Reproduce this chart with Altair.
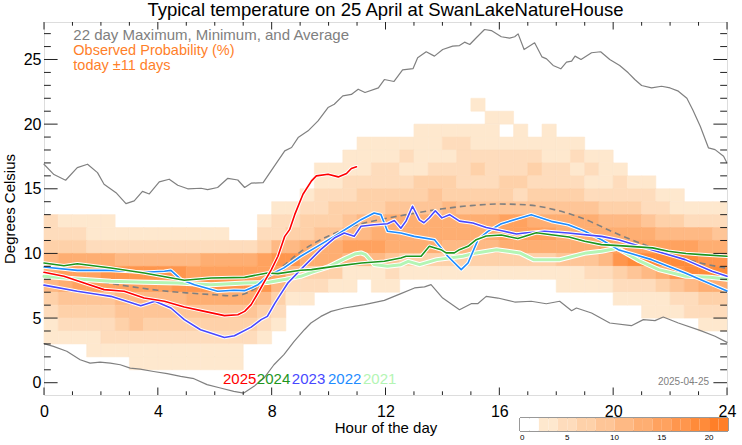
import altair as alt
import pandas as pd

W, H = 683, 373
X_DOMAIN = [0, 24]
Y_DOMAIN = [-0.95, 27.9]
FONT = "Liberation Sans"
GRAY = "#808080"
ORANGE = "#FF7F2A"

title_text = "Typical temperature on 25 April at SwanLakeNatureHouse"

# ---------------- observed probability heat map ----------------
# key: low edge of 1 degC bin; value: (first half-hour column, colour band per column)
heat_rows = {
    21: (30, "1"),
    20: (31, "11"),
    19: (26, "1111110101"),
    18: (22, "1111112211111111"),
    17: (21, "1111211122222211211"),
    16: (19, "1111221122232223221211"),
    15: (19, "112222233322233222211211"),
    14: (18, "122233333433333233332222211"),
    13: (16, "11223333444454444444444333221111"),
    12: (0, "21111" + "0" * 10 + "122333455666666667766666555433222"),
    11: (0, "2221111111111" + "00" + "223344556" + "66666666" + "7777" + "6666666" + "55554"),
    10: (0, "333222222222222" + "355666777" + "6666555566666667" + "77777766"),
    9: (0, "566665555556666" + "788666555" + "4333333333334445" + "89999988"),
    8: (0, "677788888877777" + "775333111" + "2111111111111122" + "34568999"),
    7: (0, "567777777888888" + "852221101" + "1" + "0" * 11 + "111122234566"),
    6: (0, "3444455555666665311" + "0" * 21 + "11112233"),
    5: (0, "23333444444444432" + "0" * 25 + "111222"),
    4: (0, "12222343333333321" + "0" * 29 + "11"),
    3: (0, "1111" + "2" * 11 + "1"),
    2: (3, "1" * 11),
    1: (6, "1" * 8),
}
COL_HOURS = 0.5
band_colors = ["#FFFFFF", "#FEE8CE", "#FEDCBC", "#FED1A9", "#FEC597", "#FEB984",
               "#FEAE72", "#FFA25F", "#FF964D", "#FF8B3A", "#FF7F28"]

# ---------------- 22 day max / min / average ----------------
max_h = [0, 0.35, 0.76, 1.17, 1.53, 1.88, 2.11, 2.53, 2.88, 3.17, 3.46, 3.7, 4.05, 4.4, 4.7, 5.05,
         5.52, 5.75, 6.1, 6.46, 6.81, 7.05, 7.28, 7.7, 8.1, 8.46, 8.7, 8.93, 9.28, 9.63, 9.98, 10.2,
         10.5, 10.8, 11.04, 11.28, 11.75, 11.96, 12.3, 12.6, 12.97, 13.13, 13.43, 13.72, 14.01,
         14.36, 14.6, 14.78, 14.96, 15.19, 15.48, 15.72, 16.07, 16.36, 16.54, 16.66, 16.87, 17.24,
         17.5, 17.66, 17.89, 18.16, 18.36, 18.54, 18.66, 18.87, 19.24, 19.56, 19.88, 20.23, 20.53,
         20.76, 21.0, 21.35, 21.7, 22.0, 22.29, 22.59, 22.8, 23.06, 23.35, 23.58, 23.88, 24.0]
max_t = [16.9, 16.1, 15.66, 16.64, 16.9, 16.25, 15.35, 14.7, 13.85, 14.06, 14.8, 14.6, 15.53, 15.74,
         15.27, 15.0, 15.04, 14.94, 15.1, 15.81, 15.68, 15.1, 15.43, 15.48, 16.77, 17.93, 18.19,
         18.96, 19.48, 20.25, 21.28, 21.54, 22.19, 22.3, 22.7, 22.45, 22.8, 23.45, 23.3, 24.2, 24.3,
         25.13, 25.6, 25.26, 25.77, 26.03, 26.08, 26.34, 26.16, 26.68, 27.32, 27.24, 26.76, 26.65,
         26.76, 26.98, 25.77, 26.29, 25.2, 25.05, 24.54, 24.28, 24.79, 24.87, 25.26, 25.0, 25.52,
         25.6, 25.0, 24.54, 23.97, 23.45, 22.99, 22.8, 22.93, 22.8, 22.55, 22.0, 21.1, 19.84, 18.16,
         18.03, 17.52, 17.0]
min_h = [0, 0.33, 0.8, 1.27, 1.62, 1.97, 2.33, 2.68, 3.03, 3.38, 3.85, 4.33, 4.8, 5.27, 5.73, 6.2,
         6.67, 7.02, 7.38, 7.73, 8.08, 8.43, 8.79, 9.15, 9.38, 9.73, 10.09, 10.55, 10.9, 11.26,
         11.96, 12.54, 13.02, 13.37, 13.6, 14.01, 14.6, 15.01, 15.24, 15.54, 15.95, 16.54, 17.12,
         17.65, 18.12, 18.54, 18.71, 19.24, 19.88, 20.64, 21.06, 21.47, 21.76, 22.29, 23.05, 23.58, 24.0]
min_t = [3.02, 2.81, 2.43, 1.78, 1.52, 1.6, 1.52, 1.39, 1.13, 1.05, 0.87, 0.7, 0.49, 0.31, -0.15,
         -0.41, -0.67, -0.8, -0.28, 0.36, 1.39, 2.17, 3.2, 4.1, 4.62, 5.13, 5.52, 5.78, 5.91, 6.04,
         6.37, 6.89, 7.33, 7.41, 7.59, 6.55, 5.65, 6.11, 6.11, 6.68, 6.55, 6.24, 6.3, 6.11, 6.3,
         5.57, 5.78, 5.39, 4.62, 4.41, 4.88, 4.8, 5.08, 4.62, 4.05, 3.59, 3.12]
avg_h = [0, 1, 2, 3, 4, 5, 6, 6.6, 7, 7.5, 8, 8.5, 9, 9.5, 10, 11, 12, 13, 14, 15, 16, 17, 18, 19,
         20, 21, 22, 23, 24]
avg_t = [8.6, 8.15, 7.8, 7.45, 7.15, 6.95, 6.8, 6.72, 6.85, 7.4, 8.3, 9.2, 10.1, 10.8, 11.35, 12.2,
         12.7, 13.1, 13.45, 13.7, 13.82, 13.75, 13.35, 12.65, 11.65, 10.75, 9.95, 9.3, 8.85]

# ---------------- individual years ----------------
y2025_h = [0, 0.7, 1.41, 2.11, 2.82, 3.52, 4.23, 4.93, 5.64, 6.34, 6.81, 7.05, 7.28, 7.52, 7.75,
           7.99, 8.22, 8.46, 8.63, 8.81, 9.1, 9.4, 9.57, 9.98, 10.34, 10.63, 10.8, 10.98]
y2025_t = [8.54, 8.23, 7.71, 7.2, 7.07, 6.55, 6.3, 5.86, 5.52, 5.19, 5.26, 5.52, 6.04, 6.94, 7.84,
           8.75, 9.78, 11.32, 11.84, 13.0, 14.58, 15.61, 16.0, 16.13, 15.92, 16.18, 16.57, 16.7]
y2024_h = [0, 0.7, 1.17, 2.35, 3.52, 4.93, 5.87, 7.05, 7.85, 8.22, 9.02, 9.4, 10.2, 11.16, 11.96,
           12.54, 12.72, 13.25, 13.54, 13.95, 14.13, 14.42, 14.6, 14.9, 15.19, 15.54, 16.07, 16.65,
           17.3, 17.83, 18.45, 19.0, 19.59, 20.2, 21.38, 21.94, 22.56, 23.11, 24.0]
y2024_t = [9.26, 9.05, 9.2, 8.87, 8.49, 7.92, 8.1, 8.15, 8.49, 8.44, 8.7, 8.75, 9.0, 9.26, 9.39,
           9.65, 9.78, 9.78, 10.55, 10.29, 10.04, 10.04, 10.29, 10.55, 11.06, 11.35, 11.42, 11.15,
           11.6, 11.45, 11.27, 10.94, 10.68, 10.6, 10.43, 10.17, 9.99, 9.91, 9.78]
y2023_h = [0, 1.17, 1.97, 2.35, 3.4, 3.9, 4.46, 4.93, 5.5, 6.34, 6.69, 7.28, 7.63, 7.85, 8.1, 8.3,
           8.57, 9.02, 9.72, 10.2, 10.55, 10.9, 11.14, 11.6, 12.07, 12.31, 12.54, 12.72, 12.95,
           13.19, 13.35, 13.54, 13.75, 13.98, 14.25, 14.6, 15.07, 15.54, 16.13, 16.6, 16.89, 17.59,
           18.42, 19.59, 20.18, 21.35, 22.53, 23.47, 24.0]
y2023_t = [7.55, 7.07, 6.81, 6.68, 5.96, 6.3, 5.78, 4.88, 4.1, 3.5, 3.63, 4.3, 4.88, 5.13, 6.1, 6.8,
           7.71, 8.75, 10.29, 11.19, 11.58, 11.32, 12.1, 12.22, 12.3, 12.55, 11.95, 12.5, 13.65,
           12.6, 12.37, 12.76, 13.3, 12.75, 13.0, 12.5, 12.35, 12.0, 11.73, 11.5, 11.58, 11.71,
           11.58, 11.32, 11.06, 10.29, 9.52, 8.62, 8.23]
y2022_h = [0, 1.17, 2.35, 3.52, 4.23, 4.46, 4.82, 5.29, 6.1, 6.67, 7.05, 7.3, 7.52, 7.85, 8.43,
           9.02, 9.61, 10.2, 10.67, 11.14, 11.6, 11.84, 12.07, 12.54, 13.01, 13.72, 14.19, 14.66,
           14.9, 15.25, 15.6, 16.07, 17.12, 17.83, 18.42, 19.0, 19.59, 20.18, 21.35, 22.53, 24.0]
y2022_t = [8.95, 8.69, 8.69, 8.54, 8.62, 8.69, 7.97, 7.58, 7.07, 7.15, 7.12, 7.35, 7.58, 8.23,
           8.88, 9.78, 10.55, 11.32, 11.97, 12.61, 13.13, 13.0, 11.71, 11.58, 11.32, 11.06, 9.78,
           8.75, 9.26, 11.06, 11.71, 12.3, 13.0, 12.48, 12.22, 11.71, 11.06, 10.29, 9.52, 8.49, 7.1]
y2021_h = [0, 1.17, 2.35, 3.52, 4.7, 5.87, 7.05, 7.85, 8.5, 9.02, 9.4, 9.98, 10.57, 10.92, 11.14,
           11.3, 11.6, 12.07, 12.54, 12.8, 13.2, 13.8, 14.72, 15.19, 15.9, 16.72, 17.2, 18.13,
           19.06, 19.59, 20.15, 20.9, 21.6, 22.55, 23.4, 24.0]
y2021_t = [8.23, 8.02, 7.84, 7.77, 7.71, 7.58, 7.71, 7.75, 8.0, 8.23, 8.54, 8.95, 9.6, 9.95,
           10.04, 9.9, 9.15, 9.0, 9.13, 9.39, 9.13, 9.52, 9.78, 10.04, 10.29, 10.04, 9.52, 9.52,
           10.04, 10.17, 10.4, 9.45, 8.75, 8.23, 8.15, 8.0]

year_names = ["2025", "2024", "2023", "2022", "2021"]
year_colors = ["#FF0000", "#1E961E", "#4848FF", "#1E8CFF", "#B4F5B4"]
year_widths = [1.6, 1.6, 1.6, 1.6, 3.0]
year_label_x = [6.29, 7.48, 8.71, 9.98, 11.21]
year_label_y = -0.12

note_lines = ["22 day Maximum, Minimum, and Average", "Observed Probability (%)", "today \u00b111 days"]
note_colors = [GRAY, ORANGE, ORANGE]
note_sizes = [15, 14.5, 14.5]
note_y = [26.49, 25.31, 24.19]
note_x = 1.03

date_text = "2025-04-25"

x_major = list(range(0, 25, 4))
x_minor = [h for h in range(0, 25) if h % 4]
y_major = list(range(0, 26, 5))
y_minor = [t for t in range(0, 28) if t % 5]

# ---------------- build ----------------
xs = alt.Scale(domain=X_DOMAIN, nice=False, zero=False)
ys = alt.Scale(domain=Y_DOMAIN, nice=False, zero=False)

x_axis = alt.Axis(values=x_major, title="Hour of the day", labelFontSize=16, labelFont=FONT,
                  labelColor="black", ticks=False, domain=False, grid=False, labelPadding=8,
                  labelFlush=False, titleFontSize=15, titleFont=FONT, titleFontWeight="normal",
                  titleColor="black", titleY=25.5, titleBaseline="top")
y_axis = alt.Axis(values=y_major, title="Degrees Celsius", labelFontSize=16, labelFont=FONT,
                  labelColor="black", ticks=False, domain=False, grid=False, labelPadding=3,
                  labelFlush=False, titleFontSize=15, titleFont=FONT, titleFontWeight="normal",
                  titleColor="black", titleX=-27)


def X(field):
    return alt.X(field, scale=xs, axis=x_axis)


def Y(field):
    return alt.Y(field, scale=ys, axis=y_axis)


cells = []
for t_low, (start, levels) in heat_rows.items():
    for i, ch in enumerate(levels):
        k = int(ch)
        if k == 0:
            continue
        c = start + i
        cells.append({"h0": c * COL_HOURS, "h1": (c + 1) * COL_HOURS,
                      "t0": t_low, "t1": t_low + 1, "p": 2 * k + 1})
heat_df = pd.DataFrame(cells)

cscale = alt.Scale(type="quantize", domain=[0, 22],
                   range=[c for c in band_colors for _ in (0, 1)])

legend = alt.Legend(type="gradient", orient="none", legendX=476, legendY=396,
                    direction="horizontal", gradientLength=208, gradientThickness=13,
                    title=None, labelFontSize=8, labelFont=FONT, labelColor="black",
                    labelOffset=3, labelOverlap=False, padding=0,
                    labelExpr="datum.value <= 0 ? '0' : (datum.value % 5 == 0 ? format(datum.value, 'd') : '')")

heat = alt.Chart(heat_df).mark_rect(strokeWidth=0.6).encode(
    x=X("h0:Q"),
    x2="h1:Q",
    y=Y("t0:Q"),
    y2="t1:Q",
    color=alt.Color("p:Q", scale=cscale, legend=legend),
    stroke=alt.Stroke("p:Q", scale=cscale, legend=None),
)


def line_layer(hours, temps, color, width, dash=None, interp="linear"):
    df = pd.DataFrame({"h": hours, "t": temps})
    kw = dict(color=color, strokeWidth=width, interpolate=interp, strokeCap="round",
              strokeJoin="round")
    if dash:
        kw["strokeDash"] = dash
        kw["strokeCap"] = "butt"
    return alt.Chart(df).mark_line(**kw).encode(x=X("h:Q"), y=Y("t:Q"))


layers = [heat,
          line_layer(max_h, max_t, GRAY, 1.2),
          line_layer(min_h, min_t, GRAY, 1.2),
          line_layer(avg_h, avg_t, GRAY, 1.6, dash=[6, 4], interp="monotone")]

year_series = [(y2021_h, y2021_t, 4), (y2022_h, y2022_t, 3), (y2023_h, y2023_t, 2),
               (y2024_h, y2024_t, 1), (y2025_h, y2025_t, 0)]
for hs, ts, idx in year_series:
    layers.append(line_layer(hs, ts, "white", year_widths[idx] + 2.0))
    layers.append(line_layer(hs, ts, year_colors[idx], year_widths[idx]))


def text_layer(df, align):
    return alt.Chart(df).mark_text(align=align, baseline="alphabetic", font=FONT).encode(
        x=X("x:Q"),
        y=Y("y:Q"),
        text="text:N",
        color=alt.Color("color:N", scale=None),
        size=alt.Size("size:Q", scale=None, legend=None),
    )


notes_df = pd.DataFrame({"x": [note_x] * 3, "y": note_y, "text": note_lines,
                         "color": note_colors, "size": note_sizes})
years_df = pd.DataFrame({"x": year_label_x, "y": [year_label_y] * 5, "text": year_names,
                         "color": year_colors, "size": [15] * 5})
date_df = pd.DataFrame({"x": [23.37], "y": [-0.21], "text": [date_text], "color": [GRAY],
                        "size": [10]})

layers += [text_layer(notes_df, "left"), text_layer(years_df, "left"),
           text_layer(date_df, "right")]

TICK = "#222222"


def ticks_y(values, length, side):
    df = pd.DataFrame({"v": values})
    if side == "left":
        enc = dict(x=alt.value(0), x2=alt.value(length))
    else:
        enc = dict(x=alt.value(W - length), x2=alt.value(W))
    return alt.Chart(df).mark_rule(color=TICK, strokeWidth=1).encode(y=Y("v:Q"), **enc)


def ticks_x(values, length, side):
    df = pd.DataFrame({"v": values})
    if side == "top":
        enc = dict(y=alt.value(0), y2=alt.value(length))
    else:
        enc = dict(y=alt.value(H - length), y2=alt.value(H))
    return alt.Chart(df).mark_rule(color=TICK, strokeWidth=1).encode(x=X("v:Q"), **enc)


for side in ("left", "right"):
    layers.append(ticks_y(y_major, 13.6, side))
    layers.append(ticks_y(y_minor, 6.8, side))
for side in ("top", "bottom"):
    layers.append(ticks_x(x_major, 7.5, side))
    layers.append(ticks_x(x_minor, 3.7, side))

# frame around the colour bar legend
layers.append(alt.Chart(pd.DataFrame({"a": [0]})).mark_rect(
    filled=False, stroke="#333333", strokeWidth=1).encode(
    x=alt.value(476), x2=alt.value(684), y=alt.value(396), y2=alt.value(409)))

chart = alt.layer(*layers).properties(
    width=W, height=H,
    title=alt.TitleParams(text=title_text, font=FONT, fontSize=18.5, fontWeight="normal",
                          color="black", anchor="middle", frame="group", offset=2),
    padding={"left": 44, "top": 22, "right": 15, "bottom": 50},
    autosize=alt.AutoSizeParams(type="none"),
    background="white",
).configure_view(stroke="black", strokeWidth=1).configure(font=FONT)

chart.save("out.html", embed_options={"renderer": "svg", "actions": False})
